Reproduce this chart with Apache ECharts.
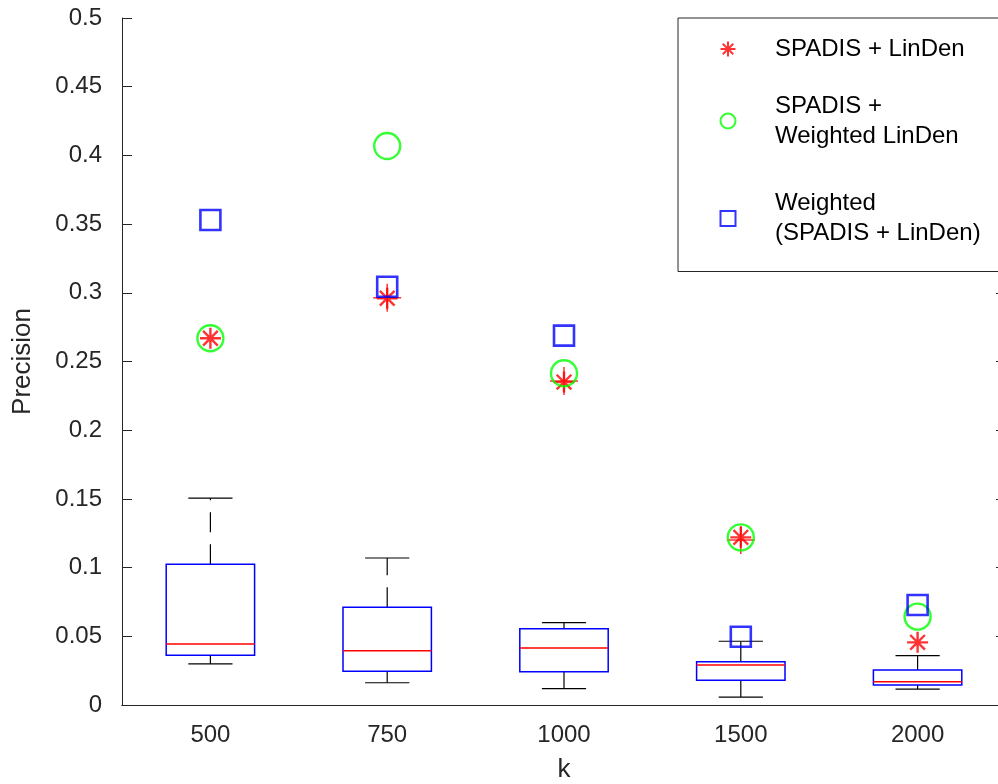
<!DOCTYPE html>
<html>
<head>
<meta charset="utf-8">
<script src="https://cdn.jsdelivr.net/npm/echarts@6/dist/echarts.min.js"></script>
<style>html,body{margin:0;padding:0;background:#fff}#c{width:998px;height:784px}</style>
</head>
<body>
<div id="c"></div>
<script>
// ---- data ----
const categories = ['500', '750', '1000', '1500', '2000'];
const yTicks = [0, 0.05, 0.1, 0.15, 0.2, 0.25, 0.3, 0.35, 0.4, 0.45, 0.5];
// box plot statistics
const lowerWhisker = [0.030, 0.0162, 0.0119, 0.0058, 0.0116];
const q1 = [0.0362, 0.0245, 0.0242, 0.0180, 0.0146];
const median = [0.0444, 0.0395, 0.0415, 0.0291, 0.0170];
const q3 = [0.1024, 0.0711, 0.0555, 0.0315, 0.0255];
const upperWhisker = [0.1505, 0.1070, 0.0599, 0.0464, 0.0359];
const outliers = [null, 0.2964, 0.2358, 0.1200, null];
// method results
const spadisLinDen = [0.2669, 0.2960, 0.2350, 0.1220, 0.0456];
const spadisWeightedLinDen = [0.2669, 0.4068, 0.2414, 0.1220, 0.0643];
const weightedSpadisLinDen = [0.3530, 0.3044, 0.2688, 0.0497, 0.0728];

const seriesNames = ['SPADIS + LinDen', 'SPADIS +\nWeighted LinDen', 'Weighted\n(SPADIS + LinDen)'];

const FONT = 'Liberation Sans, Arial, Helvetica, sans-serif';
const TXT = '#262626';
const starPath = 'path://M10,0L10,20M0,10L20,10M3,3L17,17M3,17L17,3';
const plusPath = 'path://M10,0L10,20M0,10L20,10';

const chart = echarts.init(document.getElementById('c'), null, {renderer: 'canvas'});

const boxData = categories.map((c, i) => [i, lowerWhisker[i], q1[i], median[i], q3[i], upperWhisker[i]]);

function renderBox(params, api) {
  const i = api.value(0);
  const band = api.size([1, 0])[0];
  const hb = band * 0.25, hc = band * 0.125;
  const pLo = api.coord([i, api.value(1)]);
  const pQ1 = api.coord([i, api.value(2)]);
  const pMed = api.coord([i, api.value(3)]);
  const pQ3 = api.coord([i, api.value(4)]);
  const pHi = api.coord([i, api.value(5)]);
  const x = pMed[0];
  const black = {stroke: '#000', lineWidth: 1.2, fill: null};
  return {
    type: 'group',
    children: [
      {type: 'line', shape: {x1: x, y1: pQ3[1], x2: x, y2: pHi[1]}, style: Object.assign({lineDash: [20, 12]}, black)},
      {type: 'line', shape: {x1: x, y1: pQ1[1], x2: x, y2: pLo[1]}, style: Object.assign({lineDash: [20, 12]}, black)},
      {type: 'line', shape: {x1: x - hc, y1: pHi[1], x2: x + hc, y2: pHi[1]}, style: black},
      {type: 'line', shape: {x1: x - hc, y1: pLo[1], x2: x + hc, y2: pLo[1]}, style: black},
      {type: 'rect', shape: {x: x - hb, y: pQ3[1], width: 2 * hb, height: pQ1[1] - pQ3[1]}, style: {stroke: '#0000ff', lineWidth: 1.5, fill: null}},
      {type: 'line', shape: {x1: x - hb, y1: pMed[1], x2: x + hb, y2: pMed[1]}, style: {stroke: '#ff0000', lineWidth: 1.5}}
    ]
  };
}

const legendBase = {
  orient: 'vertical', padding: 0, itemWidth: 15, itemHeight: 15, selectedMode: false, z: 11,
  textStyle: {fontFamily: FONT, fontSize: 24, color: '#000', lineHeight: 30, padding: [0, 0, 0, 34.5]}
};

const option = {
  backgroundColor: '#fff',
  animation: false,
  grid: {left: 122, top: 18, width: 884, height: 687, containLabel: false, outerBoundsMode: 'none'},
  xAxis: [
    {
      type: 'category', data: categories, position: 'bottom', boundaryGap: true,
      name: 'k', nameLocation: 'middle', nameGap: 52,
      nameTextStyle: {fontFamily: FONT, fontSize: 26, color: TXT},
      axisLine: {lineStyle: {color: TXT, width: 1}},
      axisTick: {inside: true, length: 10, alignWithLabel: true, lineStyle: {color: TXT}},
      axisLabel: {fontFamily: FONT, fontSize: 24, color: TXT, margin: 18},
      splitLine: {show: false}
    },
    {
      type: 'category', data: categories, position: 'top', boundaryGap: true,
      axisLine: {lineStyle: {color: TXT, width: 1}},
      axisTick: {inside: true, length: 10, alignWithLabel: true, lineStyle: {color: TXT}},
      axisLabel: {show: false}, splitLine: {show: false}
    }
  ],
  yAxis: [
    {
      type: 'value', min: 0, max: 0.5, interval: 0.05, position: 'left',
      name: 'Precision', nameLocation: 'middle', nameGap: 86, nameRotate: 90,
      nameTextStyle: {fontFamily: FONT, fontSize: 26, color: TXT},
      axisLine: {show: true, lineStyle: {color: TXT, width: 1}},
      axisTick: {show: true, inside: true, length: 10, lineStyle: {color: TXT}},
      axisLabel: {fontFamily: FONT, fontSize: 24, color: TXT, margin: 20, padding: [5, 0, 0, 0],
        formatter: v => { const t = yTicks.find(k => Math.abs(k - v) < 1e-9); return t === undefined ? '' : String(t); }},
      splitLine: {show: false}
    },
    {
      type: 'value', min: 0, max: 0.5, interval: 0.05, position: 'right',
      axisLine: {show: true, lineStyle: {color: TXT, width: 1}},
      axisTick: {show: true, inside: true, length: 10, lineStyle: {color: TXT}},
      axisLabel: {show: false}, splitLine: {show: false}
    }
  ],
  legend: [
    Object.assign({}, legendBase, {left: 719.5, top: 34, data: [seriesNames[0]]}),
    Object.assign({}, legendBase, {left: 719.5, top: 91, data: [seriesNames[1]]}),
    Object.assign({}, legendBase, {left: 719.5, top: 188.5, data: [seriesNames[2]]})
  ],
  graphic: [
    {type: 'rect', z: 10, shape: {x: 678, y: 18, width: 400, height: 253.5},
      style: {fill: '#fff', stroke: TXT, lineWidth: 1}}
  ],
  series: [
    {
      type: 'custom', name: 'box', renderItem: renderBox, data: boxData,
      encode: {x: 0, y: [1, 2, 3, 4, 5]}, z: 2, silent: true
    },
    {
      type: 'scatter', name: 'outliers', data: outliers, symbol: plusPath, symbolSize: 28,
      itemStyle: {color: 'rgba(0,0,0,0)', borderColor: '#ff0000', borderWidth: 1.5}, z: 3, silent: true
    },
    {
      type: 'scatter', name: seriesNames[0], data: spadisLinDen, symbol: starPath, symbolSize: 21,
      itemStyle: {color: 'rgba(0,0,0,0)', borderColor: '#ff0000', borderWidth: 2.4}, z: 4
    },
    {
      type: 'scatter', name: seriesNames[1], data: spadisWeightedLinDen, symbol: 'circle', symbolSize: 26,
      itemStyle: {color: 'rgba(0,0,0,0)', borderColor: '#00ff00', borderWidth: 2.4}, z: 5
    },
    {
      type: 'scatter', name: seriesNames[2], data: weightedSpadisLinDen, symbol: 'rect', symbolSize: 20,
      itemStyle: {color: 'rgba(0,0,0,0)', borderColor: '#0000ff', borderWidth: 2.6}, z: 6
    }
  ]
};
chart.setOption(option);
</script>
</body>
</html>
